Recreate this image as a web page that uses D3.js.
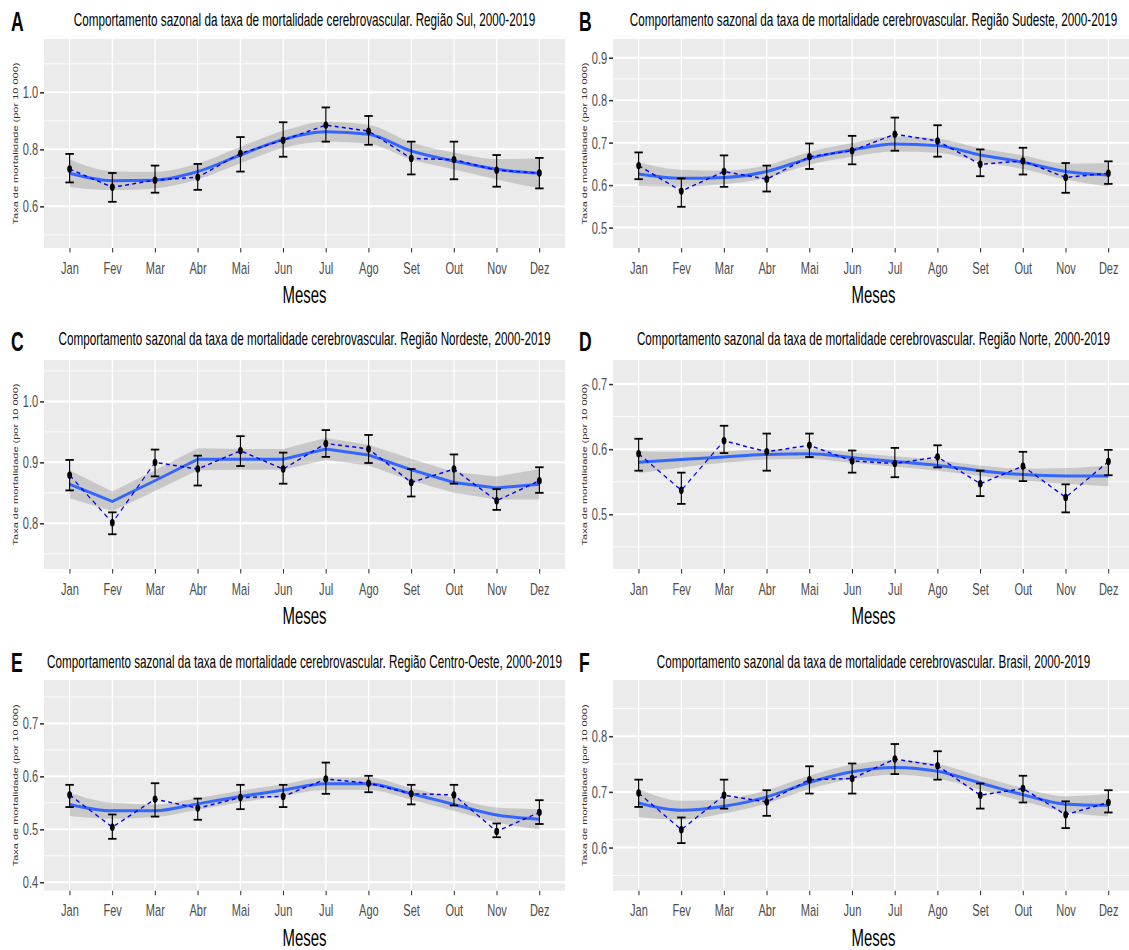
<!DOCTYPE html>
<html><head><meta charset="utf-8">
<script src="https://cdn.jsdelivr.net/npm/d3@7"></script>
<style>body{margin:0;background:#fff}svg{display:block}text{font-family:"Liberation Sans",Arial,sans-serif}</style>
</head><body><svg id="c" width="1129" height="950"></svg>
<script>
const months = ["Jan","Fev","Mar","Abr","Mai","Jun","Jul","Ago","Set","Out","Nov","Dez"];

// A - Sul
const sulMean = [0.731,0.667,0.692,0.702,0.786,0.832,0.885,0.864,0.768,0.764,0.727,0.717];
const sulLo   = [0.684,0.616,0.648,0.658,0.722,0.774,0.827,0.816,0.712,0.695,0.669,0.663];
const sulHi   = [0.784,0.717,0.743,0.749,0.843,0.895,0.947,0.917,0.827,0.827,0.780,0.770];
const sulFit  = [0.716,0.690,0.692,0.722,0.780,0.835,0.862,0.853,0.794,0.759,0.730,0.716];
const sulFitLo= [0.668,0.657,0.663,0.694,0.751,0.805,0.827,0.820,0.764,0.729,0.694,0.664];
const sulFitHi= [0.764,0.723,0.721,0.750,0.809,0.865,0.897,0.886,0.824,0.789,0.766,0.768];
const sulTicks = [0.6,0.8,1.0];
const sulMinor = [0.5,0.7,0.9,1.1];

// B - Sudeste
const sudMean = [0.646,0.586,0.632,0.614,0.667,0.681,0.720,0.704,0.649,0.657,0.618,0.628];
const sudLo   = [0.614,0.549,0.596,0.585,0.638,0.649,0.681,0.667,0.621,0.625,0.582,0.603];
const sudHi   = [0.677,0.616,0.670,0.646,0.698,0.716,0.759,0.741,0.684,0.688,0.652,0.656];
const sudFit  = [0.626,0.616,0.618,0.632,0.663,0.683,0.697,0.693,0.671,0.654,0.632,0.624];
const sudFitLo= [0.598,0.596,0.602,0.617,0.648,0.667,0.679,0.676,0.655,0.638,0.613,0.596];
const sudFitHi= [0.654,0.636,0.634,0.647,0.678,0.699,0.715,0.710,0.687,0.670,0.651,0.652];
const sudTicks = [0.5,0.6,0.7,0.8,0.9];
const sudMinor = [0.55,0.65,0.75,0.85];

// C - Nordeste
const neMean = [0.879,0.801,0.900,0.889,0.919,0.889,0.931,0.922,0.867,0.889,0.837,0.870];
const neLo   = [0.854,0.782,0.877,0.862,0.894,0.865,0.909,0.899,0.844,0.865,0.822,0.850];
const neHi   = [0.904,0.818,0.921,0.911,0.943,0.916,0.953,0.945,0.889,0.913,0.856,0.892];
const neFit  = [0.864,0.836,0.870,0.905,0.905,0.905,0.922,0.912,0.888,0.867,0.858,0.864];
const neFitLo= [0.841,0.820,0.853,0.887,0.888,0.888,0.904,0.895,0.870,0.850,0.839,0.839];
const neFitHi= [0.887,0.852,0.887,0.923,0.922,0.922,0.940,0.929,0.906,0.884,0.877,0.889];
const neTicks = [0.8,0.9,1.0];
const neMinor = [0.75,0.85,0.95,1.05];

// D - Norte
const noMean = [0.593,0.537,0.613,0.596,0.606,0.582,0.578,0.588,0.547,0.574,0.526,0.581];
const noLo   = [0.567,0.516,0.594,0.567,0.588,0.564,0.557,0.572,0.528,0.551,0.503,0.560];
const noHi   = [0.616,0.564,0.636,0.624,0.624,0.598,0.602,0.606,0.567,0.596,0.546,0.599];
const noFit  = [0.580,0.584,0.588,0.592,0.593,0.587,0.581,0.575,0.567,0.561,0.559,0.559];
const noFitLo= [0.563,0.572,0.579,0.584,0.585,0.579,0.573,0.567,0.559,0.552,0.547,0.543];
const noFitHi= [0.597,0.596,0.597,0.600,0.601,0.595,0.589,0.583,0.575,0.570,0.571,0.575];
const noTicks = [0.5,0.6,0.7];
const noMinor = [0.45,0.55,0.65];

// E - Centro-Oeste
const coMean = [0.565,0.504,0.557,0.540,0.560,0.562,0.595,0.587,0.567,0.565,0.496,0.532];
const coLo   = [0.542,0.482,0.524,0.518,0.538,0.542,0.567,0.570,0.547,0.545,0.485,0.510];
const coHi   = [0.584,0.528,0.587,0.558,0.584,0.584,0.626,0.601,0.584,0.584,0.511,0.555];
const coFit  = [0.547,0.535,0.535,0.548,0.562,0.574,0.586,0.586,0.567,0.547,0.527,0.519];
const coFitLo= [0.525,0.520,0.523,0.537,0.551,0.563,0.574,0.574,0.556,0.535,0.513,0.500];
const coFitHi= [0.569,0.550,0.547,0.559,0.573,0.585,0.598,0.598,0.578,0.559,0.541,0.538];
const coTicks = [0.4,0.5,0.6,0.7];
const coMinor = [0.45,0.55,0.65,0.75];

// F - Brasil
const brMean = [0.698,0.632,0.694,0.682,0.722,0.724,0.759,0.747,0.694,0.706,0.659,0.681];
const brLo   = [0.673,0.608,0.670,0.657,0.697,0.697,0.732,0.722,0.670,0.681,0.635,0.663];
const brHi   = [0.722,0.654,0.722,0.703,0.746,0.751,0.786,0.773,0.715,0.729,0.683,0.703];
const brFit  = [0.680,0.667,0.674,0.691,0.717,0.736,0.744,0.737,0.716,0.695,0.678,0.676];
const brFitLo= [0.655,0.650,0.661,0.679,0.705,0.723,0.731,0.724,0.704,0.683,0.664,0.656];
const brFitHi= [0.705,0.684,0.687,0.703,0.729,0.749,0.757,0.750,0.728,0.707,0.692,0.696];
const brTicks = [0.6,0.7,0.8];
const brMinor = [0.55,0.65,0.75,0.85];

const titles = [
 "Comportamento sazonal da taxa de mortalidade cerebrovascular. Região Sul, 2000-2019",
 "Comportamento sazonal da taxa de mortalidade cerebrovascular. Região Sudeste, 2000-2019",
 "Comportamento sazonal da taxa de mortalidade cerebrovascular. Região Nordeste, 2000-2019",
 "Comportamento sazonal da taxa de mortalidade cerebrovascular. Região Norte, 2000-2019",
 "Comportamento sazonal da taxa de mortalidade cerebrovascular. Região Centro-Oeste, 2000-2019",
 "Comportamento sazonal da taxa de mortalidade cerebrovascular. Brasil, 2000-2019"
];
const letters = ["A","B","C","D","E","F"];
const xTitle = "Meses";
const yTitle = "Taxa de mortalidade (por 10 000)";

const SQ = 0.65;          // horizontal squash of the whole figure
const PW = 521;           // panel width (px, on screen)
const cols = [44, 613];
const rows = [{top:39,bottom:248,title:26,letter:31},
              {top:360,bottom:569,title:345,letter:351},
              {top:680,bottom:890.7,title:668,letter:672}];

const panels = [
 {mean:sulMean,lo:sulLo,hi:sulHi,fit:sulFit,fLo:sulFitLo,fHi:sulFitHi,ticks:sulTicks,minor:sulMinor,dom:[0.454,1.187],curve:d3.curveMonotoneX},
 {mean:sudMean,lo:sudLo,hi:sudHi,fit:sudFit,fLo:sudFitLo,fHi:sudFitHi,ticks:sudTicks,minor:sudMinor,dom:[0.452,0.944],curve:d3.curveMonotoneX},
 {mean:neMean,lo:neLo,hi:neHi,fit:neFit,fLo:neFitLo,fHi:neFitHi,ticks:neTicks,minor:neMinor,dom:[0.725,1.068],curve:d3.curveLinear},
 {mean:noMean,lo:noLo,hi:noHi,fit:noFit,fLo:noFitLo,fHi:noFitHi,ticks:noTicks,minor:noMinor,dom:[0.416,0.737],curve:d3.curveMonotoneX},
 {mean:coMean,lo:coLo,hi:coHi,fit:coFit,fLo:coFitLo,fHi:coFitHi,ticks:coTicks,minor:coMinor,dom:[0.384,0.782],curve:d3.curveMonotoneX},
 {mean:brMean,lo:brLo,hi:brHi,fit:brFit,fLo:brFitLo,fHi:brFitHi,ticks:brTicks,minor:brMinor,dom:[0.5225,0.901],curve:d3.curveMonotoneX}
];

const svg = d3.select("#c");
svg.append("rect").attr("width",1129).attr("height",950).attr("fill","#fff");

panels.forEach((p,i)=>{
  const col = cols[i%2], row = rows[Math.floor(i/2)];
  const iw = PW/SQ;
  const g = svg.append("g").attr("transform",`translate(${col},0) scale(${SQ},1)`);
  const x = d3.scalePoint().domain(months).range([0,iw]).padding(0.6);
  const y = d3.scaleLinear().domain(p.dom).range([row.bottom,row.top]);

  g.append("rect").attr("x",0).attr("y",row.top).attr("width",iw).attr("height",row.bottom-row.top).attr("fill","#EBEBEB");
  g.selectAll(".mn").data(p.minor).join("line")
    .attr("x1",0).attr("x2",iw).attr("y1",d=>y(d)).attr("y2",d=>y(d))
    .attr("stroke","#fff").attr("stroke-width",1);
  g.selectAll(".mj").data(p.ticks).join("line")
    .attr("x1",0).attr("x2",iw).attr("y1",d=>y(d)).attr("y2",d=>y(d))
    .attr("stroke","#fff").attr("stroke-width",2);
  g.selectAll(".mx").data(months).join("line")
    .attr("x1",d=>x(d)).attr("x2",d=>x(d)).attr("y1",row.top).attr("y2",row.bottom)
    .attr("stroke","#fff").attr("stroke-width",2);

  const idx = d3.range(months.length);
  const area = d3.area().x(k=>x(months[k])).y0(k=>y(p.fLo[k])).y1(k=>y(p.fHi[k])).curve(p.curve);
  g.append("path").attr("d",area(idx)).attr("fill","#999999").attr("fill-opacity",0.42);
  const fitLine = d3.line().x(k=>x(months[k])).y(k=>y(p.fit[k])).curve(p.curve);
  g.append("path").attr("d",fitLine(idx)).attr("fill","none").attr("stroke","#3366FF").attr("stroke-width",3);
  const meanLine = d3.line().x(k=>x(months[k])).y(k=>y(p.mean[k]));
  g.append("path").attr("d",meanLine(idx)).attr("fill","none").attr("stroke","#0000FF")
    .attr("stroke-width",1.5).attr("stroke-dasharray","6,5");

  const eb = g.append("g").attr("stroke","#000").attr("stroke-width",1.8);
  idx.forEach(k=>{
    const cx = x(months[k]);
    eb.append("line").attr("x1",cx).attr("x2",cx).attr("y1",y(p.lo[k])).attr("y2",y(p.hi[k]));
    eb.append("line").attr("x1",cx-6.5).attr("x2",cx+6.5).attr("y1",y(p.lo[k])).attr("y2",y(p.lo[k]));
    eb.append("line").attr("x1",cx-6.5).attr("x2",cx+6.5).attr("y1",y(p.hi[k])).attr("y2",y(p.hi[k]));
  });
  g.selectAll(".pt").data(idx).join("circle")
    .attr("cx",k=>x(months[k])).attr("cy",k=>y(p.mean[k])).attr("r",3.7).attr("fill","#000");

  // axes
  const ya = g.append("g").call(d3.axisLeft(y).tickValues(p.ticks).tickFormat(d3.format(".1f")).tickSize(6).tickPadding(3));
  ya.select(".domain").remove();
  ya.selectAll("line").attr("stroke","#333").attr("stroke-width",1.6);
  ya.selectAll("text").attr("fill","#4D4D4D").style("font-size","17px").style("font-family","Liberation Sans, Arial, sans-serif");
  const xa = g.append("g").attr("transform",`translate(0,${row.bottom})`)
    .call(d3.axisBottom(x).tickSize(4.5).tickPadding(9));
  xa.select(".domain").remove();
  xa.selectAll("line").attr("stroke","#333").attr("stroke-width",1.6);
  xa.selectAll("text").attr("fill","#4D4D4D").style("font-size","17px").style("font-family","Liberation Sans, Arial, sans-serif");

  g.append("text").attr("x",iw/2).attr("y",row.bottom+55).attr("text-anchor","middle")
    .style("font-size","23px").attr("fill","#000").text(xTitle);
  const yc = (row.top+row.bottom)/2;
  g.append("text").attr("transform",`translate(-40,${yc}) rotate(-90)`).attr("text-anchor","middle")
    .style("font-size","11px").attr("fill","#3a2e2e").text(yTitle);
  g.append("text").attr("x",iw/2).attr("y",row.title).attr("text-anchor","middle")
    .style("font-size","18px").attr("fill","#000").text(titles[i]);
  const lx = (i%2===0) ? (11-col)/SQ : (579-col)/SQ;
  g.append("text").attr("x",lx).attr("y",row.letter).style("font-size","27px").style("font-weight","bold")
    .attr("fill","#000").text(letters[i]);
});
</script></body></html>
